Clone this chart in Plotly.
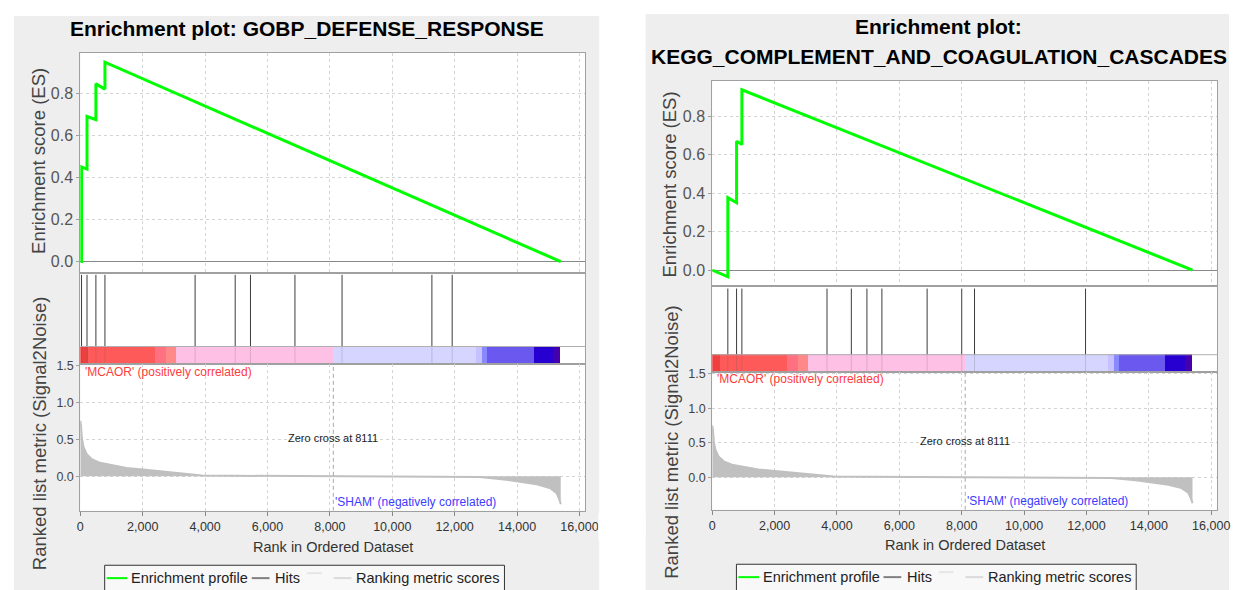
import plotly.graph_objects as go

W, H = 1242, 590

# ---------------- data ----------------
ZERO_CROSS = 8111
X_TICK_VALUES = [0, 2000, 4000, 6000, 8000, 10000, 12000, 14000, 16000]
X_TICK_TEXT = ["0", "2,000", "4,000", "6,000", "8,000", "10,000", "12,000", "14,000", "16,000"]
ES_TICK_VALUES = [0.0, 0.2, 0.4, 0.6, 0.8]
ES_TICK_TEXT = ["0.0", "0.2", "0.4", "0.6", "0.8"]
METRIC_TICK_VALUES = [0.0, 0.5, 1.0, 1.5]
METRIC_TICK_TEXT = ["0.0", "0.5", "1.0", "1.5"]

left_title = ["Enrichment plot: GOBP_DEFENSE_RESPONSE"]
left_es_rank = [0, 40, 40, 215, 215, 500, 500, 790, 790, 15400]
left_es_score = [0.0, 0.0, 0.45, 0.44, 0.69, 0.675, 0.845, 0.82, 0.948, 0.0]
left_hit_ranks = [40, 215, 500, 790, 3680, 4965, 5455, 6880, 8390, 11270, 11920]

right_title = ["Enrichment plot:", "KEGG_COMPLEMENT_AND_COAGULATION_CASCADES"]
right_es_rank = [0, 500, 500, 780, 780, 950, 950, 15400]
right_es_score = [0.0, -0.035, 0.377, 0.351, 0.671, 0.654, 0.939, 0.0]
right_hit_ranks = [500, 780, 950, 3680, 4460, 4960, 5440, 6890, 8000, 8410, 11970]

# ranked list metric (shared by both plots, same dataset)
metric_rank = [0, 20, 50, 100, 200, 370, 630, 950, 1480, 2010, 2640, 3380, 3900, 5000,
               8111, 11000, 12000, 12800, 13580, 14100, 14630, 15050, 15270, 15350, 15400]
metric_score = [0.75, 0.70, 0.52, 0.40, 0.30, 0.23, 0.18, 0.15, 0.11, 0.09, 0.06, 0.025, 0.01, 0.005,
                0.0, -0.003, -0.006, -0.012, -0.045, -0.08, -0.11, -0.16, -0.23, -0.31, -0.38]

heat_edges = [0, 244, 2410, 2750, 3065, 8100, 12700, 12890, 13050, 14540, 15170, 15400]
heat_colors = ['#EF4040', '#FF5A5A', '#FF7080', '#FF8989', '#FFC0E5', '#D5D5FF',
               '#C7C1FF', '#8888FF', '#6B58EF', '#2700D1', '#4500AD']

legend_labels = ["Enrichment profile", "Hits", "Ranking metric scores"]
pos_label = "'MCAOR' (positively correlated)"
neg_label = "'SHAM' (negatively correlated)"
zero_label = "Zero cross at %d" % ZERO_CROSS
es_axis_title = "Enrichment score (ES)"
metric_axis_title = "Ranked list metric (Signal2Noise)"
x_axis_title = "Rank in Ordered Dataset"

# ---------------- layout geometry (pixels) ----------------
def fx(px):
    return px / W

def fy(py):
    return 1 - py / H

FONT = "Liberation Sans, Arial, sans-serif"
X_RANGE = [0, 16190]
CANVAS = "#eeeeee"

panels = [
    dict(title=left_title, title_x=308, title_y=[23], canvas=(11, 604, 10),
         es_rank=left_es_rank, es_score=left_es_score, hits=left_hit_ranks,
         x0=78.3, x1=590, es_top=47, es_bot=269.3, heat_top=344, hits_bot=362, met_bot=510,
         es_range=[-0.052, 0.994], met_range=[-0.469, 1.513],
         es_lab=(36, 157), met_lab=(37, 432), xlab=(334, 547),
         pos=(81, 370), zero=(334, 436), neg=(334, 501),
         leg_x=103, leg_y=578, leg_top=565),
    dict(title=right_title, title_x=948, title_y=[21, 51], canvas=(651, 1242, 8),
         es_rank=right_es_rank, es_score=right_es_score, hits=right_hit_ranks,
         x0=718.5, x1=1230, es_top=75.3, es_bot=283.3, heat_top=352.3, hits_bot=370, met_bot=509,
         es_range=[-0.085, 0.987], met_range=[-0.475, 1.525],
         es_lab=(675, 180), met_lab=(677, 440), xlab=(975, 545),
         pos=(721, 377), zero=(975, 439), neg=(975, 500),
         leg_x=743, leg_y=577, leg_top=564),
]

fig = go.Figure()
layout = dict(width=W, height=H, margin=dict(l=0, r=0, t=0, b=0),
              paper_bgcolor="white", plot_bgcolor="white", showlegend=False,
              font=dict(family=FONT, color="#333"), bargap=0)
shapes = []
annotations = []

GRID = dict(gridcolor="#d4d4d4", griddash="3px,3px", gridwidth=1)
FRAME = dict(showline=True, mirror=True, linecolor="#a0a0a0", linewidth=1)

# grey chart canvases (below everything)
for p in panels:
    cx0, cx1, cy0 = p["canvas"]
    shapes.append(dict(type="rect", xref="paper", yref="paper", x0=fx(cx0), x1=fx(cx1), y0=0, y1=fy(cy0),
                       fillcolor=CANVAS, line_width=0, layer="below"))

for i, p in enumerate(panels):
    a_es, a_hit, a_met = 3 * i + 1, 3 * i + 2, 3 * i + 3
    xdom = [fx(p["x0"]), fx(p["x1"])]
    heat_frac = (p["hits_bot"] - p["heat_top"]) / (p["hits_bot"] - p["es_bot"])

    def xa(n):
        return "x" if n == 1 else "x%d" % n

    def ya(n):
        return "y" if n == 1 else "y%d" % n

    def lk(prefix, n):
        return prefix + ("axis" if n == 1 else "axis%d" % n)

    # white plot areas on top of the grey canvas
    for n in (a_es, a_hit, a_met):
        shapes.append(dict(type="rect", xref=xa(n) + " domain", yref=ya(n) + " domain",
                           x0=0, x1=1, y0=0, y1=1, fillcolor="white", line_width=0, layer="below"))

    # --- ES panel
    layout[lk("x", a_es)] = dict(domain=xdom, range=X_RANGE, anchor=ya(a_es), tickvals=X_TICK_VALUES,
                                 showticklabels=False, ticks="", showgrid=True, zeroline=False,
                                 fixedrange=True, **GRID, **FRAME)
    layout[lk("y", a_es)] = dict(domain=[fy(p["es_bot"]), fy(p["es_top"])], range=p["es_range"],
                                 anchor=xa(a_es), tickvals=ES_TICK_VALUES, ticktext=ES_TICK_TEXT,
                                 ticks="outside", ticklen=3, tickcolor="#a0a0a0",
                                 tickfont=dict(size=16, color="#555"), showgrid=True,
                                 zeroline=True, zerolinecolor="#888", zerolinewidth=1,
                                 fixedrange=True, **GRID, **FRAME)
    fig.add_trace(go.Scatter(x=p["es_rank"], y=p["es_score"], mode="lines",
                             line=dict(color="#00ff00", width=3), xaxis=xa(a_es), yaxis=ya(a_es),
                             hoverinfo="skip"))

    # --- hits + colour bar panel
    layout[lk("x", a_hit)] = dict(domain=xdom, range=X_RANGE, anchor=ya(a_hit), showticklabels=False,
                                  ticks="", showgrid=False, zeroline=False, fixedrange=True, **FRAME)
    layout[lk("y", a_hit)] = dict(domain=[fy(p["hits_bot"]), fy(p["es_bot"])], range=[0, 1],
                                  anchor=xa(a_hit), showticklabels=False, ticks="", showgrid=False,
                                  zeroline=False, fixedrange=True, **FRAME)
    seg_mid = [(heat_edges[k] + heat_edges[k + 1]) / 2 for k in range(len(heat_colors))]
    seg_w = [heat_edges[k + 1] - heat_edges[k] for k in range(len(heat_colors))]
    fig.add_trace(go.Bar(x=seg_mid, y=[heat_frac] * len(seg_mid), width=seg_w, base=0,
                         marker=dict(color=heat_colors, line=dict(width=0)),
                         xaxis=xa(a_hit), yaxis=ya(a_hit), hoverinfo="skip"))
    hx, hy, ox, oy = [], [], [], []
    for h in p["hits"]:
        hx += [h, h, None]
        hy += [heat_frac, 0.975, None]
        ox += [h, h, None]
        oy += [0, heat_frac, None]
    fig.add_trace(go.Scatter(x=ox, y=oy, mode="lines", line=dict(color="rgba(90,90,90,0.22)", width=1),
                             xaxis=xa(a_hit), yaxis=ya(a_hit), hoverinfo="skip"))
    fig.add_trace(go.Scatter(x=hx, y=hy, mode="lines", line=dict(color="#3c3c3c", width=1),
                             xaxis=xa(a_hit), yaxis=ya(a_hit), hoverinfo="skip"))
    # line separating bar code and hits
    shapes.append(dict(type="line", xref=xa(a_hit) + " domain", yref=ya(a_hit), x0=0, x1=1,
                       y0=heat_frac, y1=heat_frac, line=dict(color="#b0b0b0", width=1)))

    # --- ranked metric panel
    layout[lk("x", a_met)] = dict(domain=xdom, range=X_RANGE, anchor=ya(a_met), tickvals=X_TICK_VALUES,
                                  ticktext=X_TICK_TEXT, ticks="outside", ticklen=4, tickcolor="#888",
                                  tickfont=dict(size=12.5, color="#333"), showgrid=True, zeroline=False,
                                  fixedrange=True, **GRID, **FRAME)
    layout[lk("y", a_met)] = dict(domain=[fy(p["met_bot"]), fy(p["hits_bot"])], range=p["met_range"],
                                  anchor=xa(a_met), tickvals=METRIC_TICK_VALUES, ticktext=METRIC_TICK_TEXT,
                                  ticks="outside", ticklen=3, tickcolor="#a0a0a0",
                                  tickfont=dict(size=12.5, color="#444"), showgrid=True, zeroline=False,
                                  fixedrange=True, **GRID, **FRAME)
    fig.add_trace(go.Scatter(x=metric_rank, y=metric_score, mode="lines", fill="tozeroy",
                             fillcolor="#c0c0c0", line=dict(color="#c0c0c0", width=2),
                             xaxis=xa(a_met), yaxis=ya(a_met), hoverinfo="skip"))
    fig.add_trace(go.Scatter(x=[ZERO_CROSS, ZERO_CROSS], y=p["met_range"], mode="lines",
                             line=dict(color="#a8a8a8", width=1, dash="4px,3px"),
                             xaxis=xa(a_met), yaxis=ya(a_met), hoverinfo="skip"))

    # --- texts
    for k, t in enumerate(p["title"]):
        annotations.append(dict(text="<b>%s</b>" % t, x=fx(p["title_x"]), y=fy(p["title_y"][k]),
                                xref="paper", yref="paper", xanchor="center", yanchor="middle",
                                showarrow=False, font=dict(size=21, color="black", family=FONT)))
    annotations.append(dict(text=es_axis_title, x=fx(p["es_lab"][0]), y=fy(p["es_lab"][1]), textangle=-90,
                            xref="paper", yref="paper", xanchor="center", yanchor="middle",
                            showarrow=False, font=dict(size=18.5, color="#444")))
    annotations.append(dict(text=metric_axis_title, x=fx(p["met_lab"][0]), y=fy(p["met_lab"][1]),
                            textangle=-90, xref="paper", yref="paper", xanchor="center", yanchor="middle",
                            showarrow=False, font=dict(size=18.5, color="#444")))
    annotations.append(dict(text=x_axis_title, x=fx(p["xlab"][0]), y=fy(p["xlab"][1]),
                            xref="paper", yref="paper", xanchor="center", yanchor="middle",
                            showarrow=False, font=dict(size=14.5, color="#333")))
    annotations.append(dict(text=pos_label, x=fx(p["pos"][0]), y=fy(p["pos"][1]),
                            xref="paper", yref="paper", xanchor="left", yanchor="middle",
                            showarrow=False, font=dict(size=12, color="#ff3b3b")))
    annotations.append(dict(text=zero_label, x=fx(p["zero"][0]), y=fy(p["zero"][1]),
                            xref="paper", yref="paper", xanchor="center", yanchor="middle",
                            showarrow=False, font=dict(size=11, color="#222")))
    annotations.append(dict(text=neg_label, x=fx(p["neg"][0]), y=fy(p["neg"][1]),
                            xref="paper", yref="paper", xanchor="left", yanchor="middle",
                            showarrow=False, font=dict(size=12, color="#3b3bff")))

    # --- legend (drawn by hand, like the Java chart legend)
    lx, ly = p["leg_x"], p["leg_y"]
    shapes.append(dict(type="rect", xref="paper", yref="paper", x0=fx(lx), x1=fx(lx + 405),
                       y0=fy(600), y1=fy(p["leg_top"]), fillcolor="#f8f8f8",
                       line=dict(color="#333", width=1)))
    samples = [(lx + 2, lx + 23, ly, "#00ff00"), (lx + 149, lx + 167, ly, "#808080"),
               (lx + 205, lx + 220, ly - 5, "#e6e6e6"), (lx + 232, lx + 250, ly, "#dadada")]
    for (a, b, yy, c) in samples:
        shapes.append(dict(type="line", xref="paper", yref="paper", x0=fx(a), x1=fx(b), y0=fy(yy), y1=fy(yy),
                           line=dict(color=c, width=2)))
    for (txt, tx) in zip(legend_labels, [lx + 25, lx + 171, lx + 253]):
        annotations.append(dict(text=txt, x=fx(tx), y=fy(ly), xref="paper", yref="paper",
                                xanchor="left", yanchor="middle", showarrow=False,
                                font=dict(size=14.5, color="#222")))

# the left canvas crops its last tick label, as in the original picture
shapes.append(dict(type="rect", xref="paper", yref="paper", x0=fx(603), x1=fx(651), y0=fy(540), y1=fy(512),
                   fillcolor="white", line_width=0, layer="above"))

layout["shapes"] = shapes
layout["annotations"] = annotations
fig.update_layout(**layout)
fig.write_html("out.html", config={"displayModeBar": False})
